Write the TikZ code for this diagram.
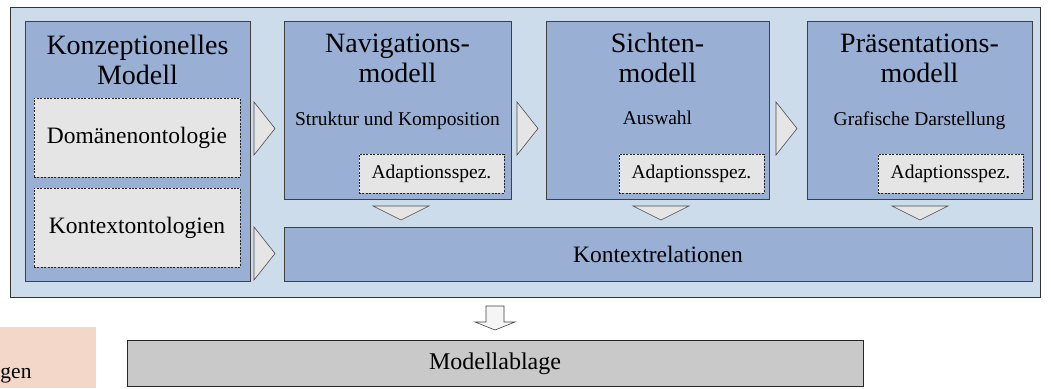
\documentclass[tikz,border=0pt]{standalone}
\usepackage{fontspec}
\setmainfont{Liberation Serif}
\definecolor{outerblue}{HTML}{CDDCEB}
\definecolor{modelblue}{HTML}{99AFD4}
\definecolor{specgray}{HTML}{E5E5E5}
\definecolor{storegray}{HTML}{C9C9C9}
\definecolor{peach}{HTML}{F3D8CA}
\newcommand{\fsz}[2]{\fontsize{#1}{#2}\selectfont}
\begin{document}
\begin{tikzpicture}[x=1pt,y=-1pt,
  every node/.style={inner sep=0pt, outer sep=0pt},
  outerbox/.style={fill=outerblue, draw=black!80, line width=0.9pt},
  modelbox/.style={fill=modelblue, draw=black!75, line width=0.8pt},
  specbox/.style={fill=specgray, draw=black!85, line width=0.7pt, dash pattern=on 2pt off 1.4pt},
  tri/.style={fill=specgray, draw=black!70, line width=0.6pt, line join=miter},
  title/.style={align=center, font=\fsz{28}{30}, anchor=base},
  sub/.style={font=\fsz{19.5}{22}, anchor=base},
  rtri/.pic={\draw[tri] (0,0) -- (21,26.5) -- (0,53) -- cycle;},
  dtri/.pic={\draw[tri] (0,0) -- (56,0) -- (28,14) -- cycle;}
]
\useasboundingbox (0,0) rectangle (1051,388);

% partly visible legend box at the lower left
\fill[peach] (0,327) rectangle (96,388);
\node[font=\fsz{21.5}{24}, anchor=base west] (leg) at (0.5,378) {gen};

% frame holding the model layers
\node[outerbox, minimum width=1030pt, minimum height=290pt] (outer) at (525,152) {};

% conceptual model with its ontologies (title anchored at its last baseline)
\node[modelbox, minimum width=225pt, minimum height=260pt] (konz) at (137.5,151) {};
\node[title] (konzt) at (137.5,84) {Konzeptionelles\\Modell};
\node[specbox, minimum width=206pt, minimum height=79pt, font=\fsz{23.5}{26}] (dom) at (137,137.5) {Domänenontologie};
\node[specbox, minimum width=206pt, minimum height=79pt, font=\fsz{23.5}{26}] (kto) at (137,227.5) {Kontextontologien};

% navigation, view and presentation models
\node[modelbox, minimum width=227pt, minimum height=178pt] (nav) at (397.5,110) {};
\node[title] (navt) at (397.5,82) {Navigations-\\modell};
\node[sub] (navs) at (397.5,125) {Struktur und Komposition};
\node[specbox, minimum width=145pt, minimum height=39pt, font=\fsz{19.5}{22}] (spec1) at (431.5,173.5) {Adaptionsspez.};

\node[modelbox, minimum width=223pt, minimum height=178pt] (sicht) at (657.5,110) {};
\node[title] (sichtt) at (657.5,82) {Sichten-\\modell};
\node[sub] (sichts) at (657.5,124) {Auswahl};
\node[specbox, minimum width=145pt, minimum height=39pt, font=\fsz{19.5}{22}] (spec2) at (691.5,173.5) {Adaptionsspez.};

\node[modelbox, minimum width=225pt, minimum height=178pt] (praes) at (919.5,110) {};
\node[title] (praest) at (919.5,82) {Präsentations-\\modell};
\node[sub] (praess) at (919.5,125) {Grafische Darstellung};
\node[specbox, minimum width=145pt, minimum height=39pt, font=\fsz{19.5}{22}] (spec3) at (950.5,173.5) {Adaptionsspez.};

% context relations
\node[modelbox, minimum width=748pt, minimum height=54pt, font=\fsz{23.5}{26}] (ctx) at (658,254) {Kontextrelationen};

% flow markers between the layers
\pic at (254,102) {rtri};
\pic at (254,227) {rtri};
\pic at (517,102) {rtri};
\pic at (776,102) {rtri};
\pic at (373,206) {dtri};
\pic at (633,206) {dtri};
\pic at (892,206) {dtri};

% model store
\node[fill=storegray, draw=black!85, line width=0.9pt, minimum width=736pt, minimum height=46pt, font=\fsz{24}{26}] (store) at (495,363.5) {Modellablage};
\draw[fill=specgray!40, draw=black!75, line width=0.6pt, line join=miter]
  (486,306) -- (504,306) -- (504,322) -- (515,322) -- (495,330) -- (475,322) -- (486,322) -- cycle;
\end{tikzpicture}
\end{document}
